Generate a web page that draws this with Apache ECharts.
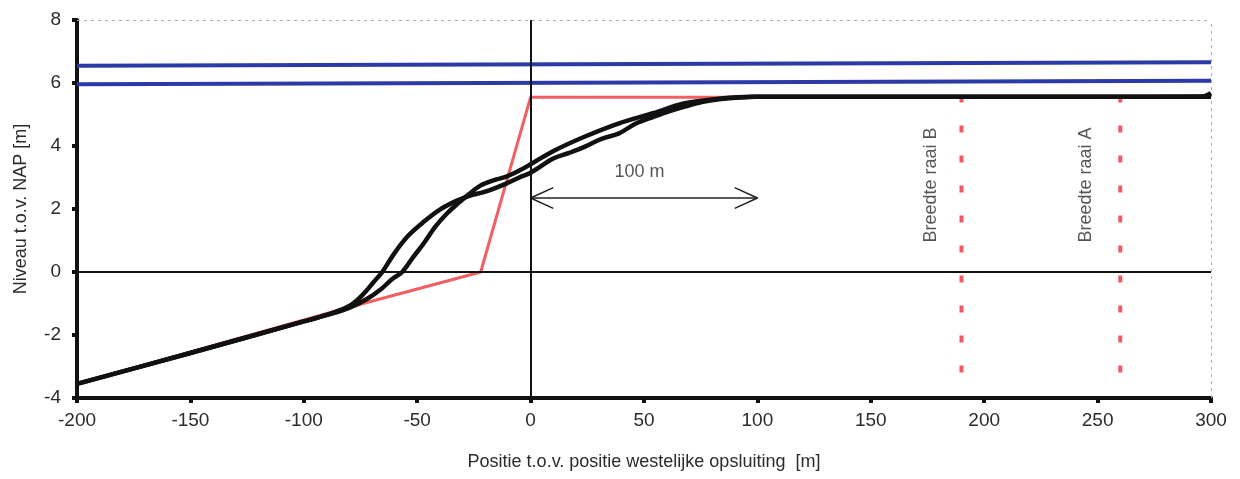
<!DOCTYPE html>
<html><head><meta charset="utf-8">
<script src="https://cdn.jsdelivr.net/npm/echarts@6/dist/echarts.min.js"></script>
<style>html,body{margin:0;padding:0;background:#fff}#c{width:1240px;height:479px}</style>
</head><body><div id="c"></div>
<script>
// X ticks and Y ticks
const xTicks = [-200, -150, -100, -50, 0, 50, 100, 150, 200, 250, 300];
const yTicks = [-4, -2, 0, 2, 4, 6, 8];

// Black measured profiles [position m, level m NAP]
const profile1 = [[-200,-3.55],[-150,-2.57],[-100,-1.57],[-90,-1.36],[-80,-1.08],[-74,-0.72],[-69,-0.3],[-65.4,0],[-60,0.6],[-54,1.15],[-47,1.6],[-40,1.98],[-33,2.25],[-27,2.42],[-20,2.55],[-11,2.8],[-5,3.0],[0,3.15],[10,3.6],[17,3.78],[24,3.98],[31,4.22],[39,4.4],[46,4.7],[54,4.92],[61,5.1],[68,5.25],[76,5.4],[83,5.48],[92,5.54],[100,5.56],[150,5.56],[200,5.56],[250,5.56],[296,5.57],[300,5.68]];
const profile2 = [[-200,-3.55],[-150,-2.57],[-100,-1.57],[-90,-1.37],[-80,-1.14],[-72,-0.85],[-66,-0.55],[-61,-0.22],[-56.6,0],[-52,0.45],[-47,0.92],[-42,1.44],[-37,1.85],[-32,2.18],[-27,2.48],[-22,2.75],[-16,2.92],[-11,3.02],[-5,3.22],[0,3.42],[9.5,3.82],[24,4.3],[39,4.72],[54,5.04],[68,5.36],[83,5.5],[98,5.56],[150,5.56],[300,5.56]];
// Red design profile
const designProfile = [[-200,-3.55],[-80,-1.12],[-22,0],[0,5.55],[300,5.55]];
// Blue water levels
const levelHigh = [[-200,6.55],[300,6.66]];
const levelLow = [[-200,5.96],[300,6.07]];
// Raai widths (dashed red)
const raaiB = [[190,5.6],[190,-3.45]];
const raaiA = [[260,5.6],[260,-3.45]];
// 100 m arrow
const arrowShaft = [[0,2.35],[100,2.35]];
const arrowLeft = [[10,2.68],[0,2.35],[10,2.02]];
const arrowRight = [[90,2.68],[100,2.35],[90,2.02]];
// Annotation texts
const annotations = [
  {pos:[48,3.17], text:'100 m', rotate:0},
  {pos:[176.5,2.76], text:'Breedte raai B', rotate:90},
  {pos:[245,2.76], text:'Breedte raai A', rotate:90}
];

const FONT = '"Liberation Sans", Arial, sans-serif';
const TXT = '#2b2b2b';
const chart = echarts.init(document.getElementById('c'));

function line(data, color, width, z, type, smooth) {
  return {type:'line', data, symbol:'none', silent:true, z, smooth: smooth || false,
    lineStyle:{color, width, type: type || 'solid', cap:'butt', join:'round'}, animation:false};
}

chart.setOption({
  animation:false,
  grid:{left:77, right:29, top:20, bottom:81},
  xAxis:{type:'value', min:xTicks[0], max:xTicks[xTicks.length-1], interval:50,
    name:'Positie t.o.v. positie westelijke opsluiting  [m]', nameLocation:'middle', nameGap:55,
    nameTextStyle:{fontFamily:FONT, fontSize:18, color:TXT},
    axisLine:{onZero:false, lineStyle:{color:'#111', width:4}},
    axisTick:{show:true, length:5, lineStyle:{color:'#111', width:4}},
    axisLabel:{fontFamily:FONT, fontSize:19, color:TXT, margin:13},
    splitLine:{show:false}},
  yAxis:{type:'value', min:yTicks[0], max:yTicks[yTicks.length-1], interval:2,
    name:'Niveau t.o.v. NAP [m]', nameLocation:'middle', nameGap:47,
    nameTextStyle:{fontFamily:FONT, fontSize:18, color:TXT},
    axisLine:{onZero:false, lineStyle:{color:'#111', width:4}},
    axisTick:{show:true, length:5, lineStyle:{color:'#111', width:4}},
    axisLabel:{fontFamily:FONT, fontSize:19, color:TXT, margin:16},
    splitLine:{show:false}},
  series:[
    {type:'line', data:[], silent:true, z:1,
      markLine:{silent:true, symbol:'none', animation:false, label:{show:false},
        data:[
          {yAxis:8, lineStyle:{color:'#aaa', width:1, type:[3,4]}},
          {xAxis:300, lineStyle:{color:'#aaa', width:1, type:[3,4]}},
          {yAxis:0, lineStyle:{color:'#111', width:2, type:'solid'}},
          {xAxis:0, lineStyle:{color:'#111', width:2, type:'solid'}}
        ]}},
    line(levelHigh, '#2b3aa6', 4, 2),
    line(levelLow, '#2b3aa6', 4, 2),
    line(designProfile, '#f25f62', 3, 3),
    line(raaiB, '#f25a60', 4, 3, [7,23]),
    line(raaiA, '#f25a60', 4, 3, [7,23]),
    line(profile1, '#111', 4.5, 5, null, 0.35),
    line(profile2, '#111', 4.5, 5, null, 0.35),
    line(arrowShaft, '#222', 1.5, 4),
    line(arrowLeft, '#222', 1.5, 4),
    line(arrowRight, '#222', 1.5, 4),
    {type:'scatter', silent:true, z:6, symbolSize:0,
      data: annotations.map(a => ({value:a.pos, label:{show:true, formatter:a.text, rotate:a.rotate,
        position:'inside', align:'center', verticalAlign:'middle',
        fontFamily:FONT, fontSize:18, color:TXT}}))}
  ]
});
</script></body></html>
